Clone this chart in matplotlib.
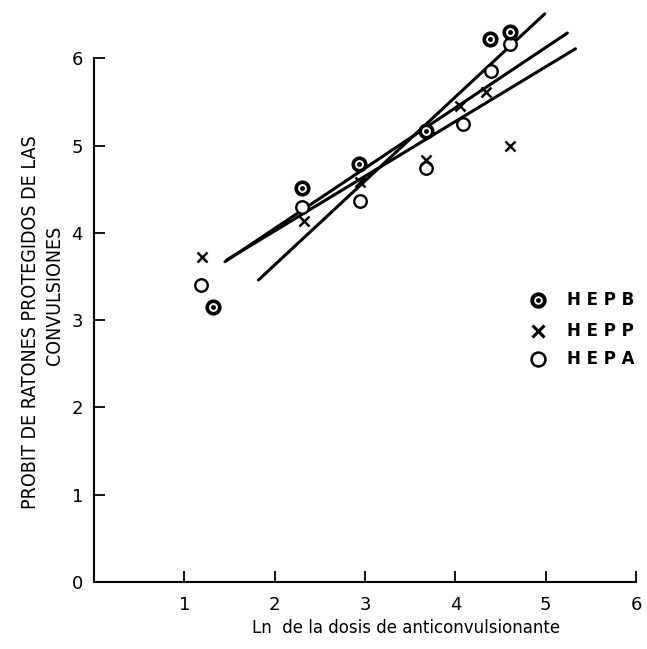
import numpy as np
import matplotlib
matplotlib.use("Agg")
import matplotlib.pyplot as plt

# valores (ln dosis, probit)
hepb_x = [1.32, 2.30, 2.93, 3.68, 4.38, 4.60]
hepb_y = [3.15, 4.51, 4.79, 5.17, 6.22, 6.30]

hepp_x = [1.20, 2.32, 2.95, 3.68, 4.05, 4.34, 4.61]
hepp_y = [3.72, 4.14, 4.58, 4.83, 5.45, 5.61, 5.00]

hepa_x = [1.18, 2.30, 2.95, 3.68, 4.09, 4.39, 4.61]
hepa_y = [3.40, 4.30, 4.37, 4.74, 5.25, 5.85, 6.16]

# rectas de regresion (extremos)
line_a_x = [1.82, 4.99]
line_a_y = [3.46, 6.51]
line_b_x = [1.45, 5.24]
line_b_y = [3.67, 6.29]
line_c_x = [1.47, 5.33]
line_c_y = [3.69, 6.11]

legend_names = ["HEPB", "HEPP", "HEPA"]
legend_y = [3.23, 2.88, 2.55]

x_ticks = [1, 2, 3, 4, 5, 6]
y_ticks = [0, 1, 2, 3, 4, 5, 6]

fig = plt.figure(figsize=(6.47, 6.49), dpi=100)
ax = fig.add_axes([0.1453, 0.1032, 0.8377, 0.8876])

ax.set_xlim(0, 6)
ax.set_ylim(0, 6.6)

for lx, ly in [(line_a_x, line_a_y), (line_b_x, line_b_y), (line_c_x, line_c_y)]:
    ax.plot(lx, ly, color="black", lw=2.2, solid_capstyle="round")

ax.plot(hepa_x, hepa_y, "o", ms=9, mfc="white", mec="black", mew=1.7, ls="none")
ax.plot(hepb_x, hepb_y, "o", ms=9, mfc="white", mec="black", mew=2.6, ls="none")
ax.plot(hepb_x, hepb_y, "o", ms=2.5, mfc="black", mec="black", ls="none")
ax.plot(hepp_x, hepp_y, "x", ms=7, mec="black", mew=1.8, ls="none")

# leyenda dibujada a mano
mk_x = 4.91
ax.plot([mk_x], [legend_y[0]], "o", ms=9, mfc="white", mec="black", mew=2.8)
ax.plot([mk_x], [legend_y[0]], "o", ms=2.5, mfc="black", mec="black")
ax.plot([mk_x], [legend_y[1]], "x", ms=8, mec="black", mew=2.2)
ax.plot([mk_x], [legend_y[2]], "o", ms=10, mfc="white", mec="black", mew=1.8)
for name, yy in zip(legend_names, legend_y):
    ax.text(5.24, yy, " ".join(name), fontsize=12, fontweight="bold",
            va="center", ha="left", family="DejaVu Sans")

for s in ["top", "right"]:
    ax.spines[s].set_visible(False)
ax.spines["left"].set_bounds(0, 6)
ax.spines["left"].set_linewidth(1.5)
ax.spines["bottom"].set_linewidth(1.5)

ax.set_xticks(x_ticks)
ax.set_yticks(y_ticks)
ax.set_xticklabels([str(t) for t in x_ticks])
ax.set_yticklabels([str(t) for t in y_ticks])
ax.tick_params(axis="both", direction="in", length=8, width=1.3,
               labelsize=13, pad=10)
ax.tick_params(axis="y", pad=8)

ax.set_xlabel("Ln  de la dosis de anticonvulsionante", fontsize=12, labelpad=10)
ax.xaxis.set_label_coords(0.576, -0.065)

# titulo del eje y en dos lineas
fig.text(0.047, 0.504, "PROBIT DE RATONES PROTEGIDOS DE LAS", rotation=90,
         fontsize=14, fontstretch="condensed", family="DejaVu Sans",
         ha="center", va="center")
fig.text(0.085, 0.545, "CONVULSIONES", rotation=90,
         fontsize=14, fontstretch="condensed", family="DejaVu Sans",
         ha="center", va="center")

fig.savefig("out.png", dpi=100)
